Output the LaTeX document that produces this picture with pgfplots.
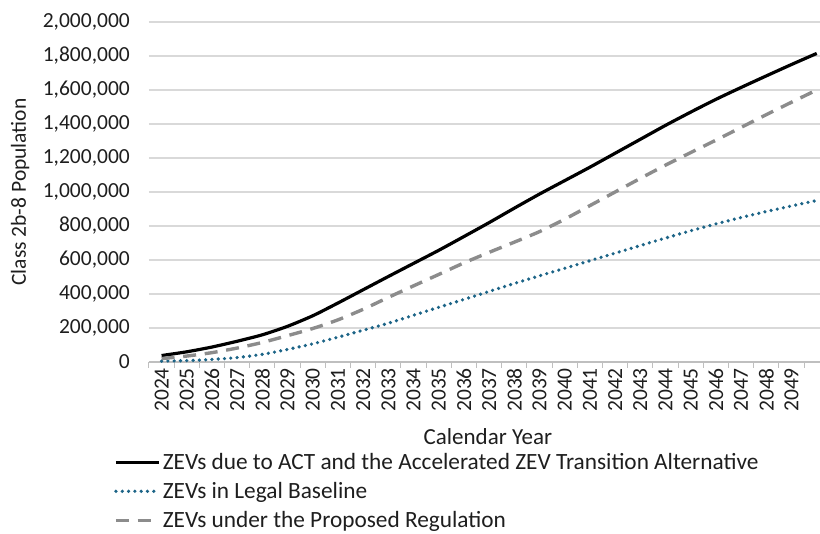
\documentclass[border=0pt]{standalone}
\usepackage{pgfplots}
\pgfplotsset{compat=1.18}
\usepackage{pgfplotstable}
\usepackage{fontspec}
\setmainfont{Carlito}
\definecolor{txt}{RGB}{30,30,30}
\definecolor{gridc}{RGB}{217,217,217}
\definecolor{axc}{RGB}{191,191,191}
\definecolor{teal}{RGB}{28,100,135}
\definecolor{dgray}{RGB}{140,140,140}

\pgfplotstableread{
year act base prop
2024 38000 5000 20000
2025 60000 8000 35000
2026 88000 15000 55000
2027 122000 26000 82000
2028 160000 45000 115000
2029 210000 74000 155000
2030 272000 107000 197000
2031 347000 146000 248000
2032 425000 187000 310000
2033 503000 228000 380000
2034 580000 275000 448000
2035 657000 322000 515000
2036 738000 368000 583000
2037 820000 415000 645000
2038 905000 462000 705000
2039 988000 507000 767000
2040 1067000 551000 840000
2041 1146000 596000 920000
2042 1228000 640000 1000000
2043 1310000 685000 1080000
2044 1392000 729000 1158000
2045 1470000 772000 1232000
2046 1545000 812000 1305000
2047 1615000 850000 1380000
2048 1683000 885000 1455000
2049 1750000 918000 1528000
2050 1815000 950000 1600000
}\datatable

\begin{document}
\begin{tikzpicture}[x=1pt,y=1pt]
\useasboundingbox (0,0) rectangle (820,534);
\begin{axis}[
  at={(149pt,172pt)}, anchor=south west,
  scale only axis, width=671pt, height=340pt,
  font=\fontsize{21.5}{25}\selectfont, text=txt,
  /pgf/number format/assume math mode=true,
  xmin=2023.5, xmax=2050.13,
  ymin=0, ymax=2000000,
  axis lines*=left,
  axis line style={-},
  y axis line style={draw=none},
  x axis line style={draw=axc, line width=1.3pt},
  xtick={2024,...,2049},
  minor xtick={2023.5,2024.5,...,2050.5},
  major tick length=0pt,
  minor tick length=6pt,
  tick align=outside,
  minor tick style={draw=axc, line width=1pt},
  ytick={0,200000,...,2000000},
  ytick style={draw=none},
  scaled y ticks=false,
  ymajorgrids,
  major grid style={draw=gridc, line width=1.1pt},
  x tick label style={rotate=90, anchor=east, inner sep=0pt},
  xticklabel style={/pgf/number format/1000 sep={}},
  xticklabel shift=6pt,
  y tick label style={anchor=east, inner sep=0pt, xshift=-19pt},
  yticklabel style={/pgf/number format/.cd, fixed, 1000 sep={,}},
  xlabel={Calendar Year},
  ylabel={Class 2b-8 Population},
  every axis x label/.style={at={(axis description cs:0.505,-0.2206)}, anchor=center, font=\fontsize{23}{27}\selectfont},
  every axis y label/.style={at={(axis description cs:-0.1922,0.5)}, rotate=90, anchor=center},
  legend style={at={(axis description cs:-0.0522,-0.262)}, anchor=north west,
     draw=none, fill=none, inner sep=0pt, row sep=7.5pt,
     font=\fontsize{23.3}{27}\selectfont, text=txt},
  legend cell align=left,
  legend image code/.code={\draw[#1] (0pt,0pt) -- (43pt,0pt);},
  clip=false,
]
\addplot[black, line width=3.2pt, smooth, tension=0.4] table[x=year,y=act] {\datatable};
\addlegendentry{ZEVs due to ACT and the Accelerated ZEV Transition Alternative}
\addplot[teal, line width=3.6pt, line cap=round, dash pattern=on 0pt off 6.3pt, smooth, tension=0.4] table[x=year,y=base] {\datatable};
\addlegendentry{ZEVs in Legal Baseline}
\addplot[dgray, line width=3.4pt, dash pattern=on 13pt off 8.7pt, smooth, tension=0.4] table[x=year,y=prop] {\datatable};
\addlegendentry{ZEVs under the Proposed Regulation}
\end{axis}
\end{tikzpicture}
\end{document}
